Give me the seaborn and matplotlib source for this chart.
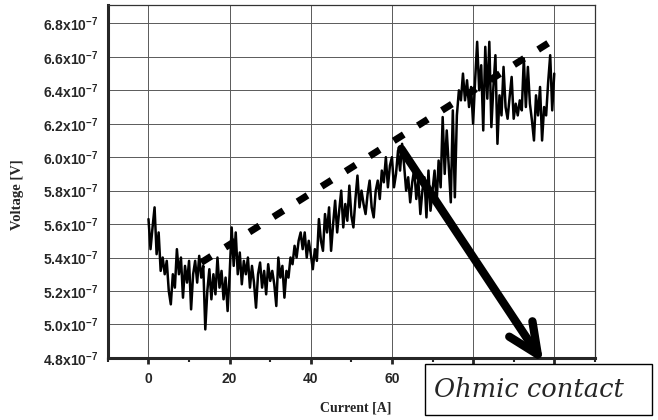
import numpy as np
import matplotlib
matplotlib.use("Agg")
import matplotlib.pyplot as plt
from matplotlib.ticker import FuncFormatter, MultipleLocator
from matplotlib.patches import Rectangle
import seaborn as sns

# ------------------------------
# Data (voltage in units of 1e-7 V, current sweep 0..100 A in 0.5 A steps)
# ------------------------------
current = np.arange(0, 100.5, 0.5)
voltage_e7 = [
    5.63, 5.45, 5.58, 5.70, 5.42, 5.55, 5.32, 5.40, 5.30, 5.38,
    5.20, 5.12, 5.30, 5.22, 5.45, 5.30, 5.40, 5.16, 5.35, 5.25,
    5.38, 5.09, 5.30, 5.38, 5.25, 5.41, 5.28, 5.35, 4.97, 5.20,
    5.33, 5.15, 5.30, 5.18, 5.40, 5.22, 5.32, 5.15, 5.28, 5.08,
    5.30, 5.58, 5.35, 5.55, 5.30, 5.43, 5.24, 5.38, 5.30, 5.40,
    5.22, 5.35, 5.25, 5.10, 5.30, 5.37, 5.22, 5.32, 5.18, 5.36,
    5.26, 5.32, 5.24, 5.11, 5.40, 5.28, 5.35, 5.16, 5.32, 5.28,
    5.40, 5.36, 5.47, 5.40, 5.50, 5.55, 5.45, 5.55, 5.40, 5.50,
    5.42, 5.33, 5.45, 5.38, 5.63, 5.50, 5.44, 5.66, 5.55, 5.70,
    5.44, 5.60, 5.74, 5.55, 5.68, 5.80, 5.58, 5.72, 5.62, 5.83,
    5.65, 5.58, 5.75, 5.89, 5.70, 5.80, 5.72, 5.66, 5.78, 5.86,
    5.70, 5.64, 5.80, 5.86, 5.75, 5.92, 5.85, 6.00, 5.82, 5.95,
    6.00, 5.82, 5.90, 6.04, 5.92, 6.08, 5.95, 5.80, 5.88, 5.73,
    5.85, 5.93, 5.75, 5.86, 5.66, 5.80, 5.88, 5.64, 5.92, 5.68,
    5.80, 5.92, 5.72, 5.98, 5.82, 6.24, 5.90, 6.16, 5.95, 5.73,
    6.28, 5.76, 6.25, 6.40, 6.34, 6.50, 6.34, 6.46, 6.30, 6.42,
    6.20, 6.46, 6.69, 6.40, 6.55, 6.16, 6.66, 6.35, 6.69, 6.18,
    6.42, 6.61, 6.08, 6.37, 6.25, 6.54, 6.30, 6.23, 6.36, 6.48,
    6.23, 6.32, 6.25, 6.34, 6.28, 6.59, 6.30, 6.54, 6.32, 6.22,
    6.10, 6.37, 6.25, 6.42, 6.10, 6.30, 6.25, 6.45, 6.61, 6.28,
    6.50,
]
voltage = np.array(voltage_e7) * 1e-7

# linear guide (dashed) end points
trend_x = [13, 101]
trend_y = [5.37e-7, 6.72e-7]

# arrow from the kink to the label
arrow_start = (62.3, 6.05e-7)
arrow_end = (97.3, 4.77e-7)

x_ticks = [0, 20, 40, 60, 80, 100]
y_ticks = [4.8e-7, 5.0e-7, 5.2e-7, 5.4e-7, 5.6e-7, 5.8e-7,
           6.0e-7, 6.2e-7, 6.4e-7, 6.6e-7, 6.8e-7]

# ------------------------------
# Style
# ------------------------------
sns.set_style("ticks")
plt.rcParams["font.family"] = ["Liberation Sans", "DejaVu Sans"]
plt.rcParams["mathtext.fontset"] = "custom"
plt.rcParams["mathtext.rm"] = "Liberation Sans:bold"
plt.rcParams["mathtext.it"] = "Liberation Sans:bold"
plt.rcParams["mathtext.bf"] = "Liberation Sans:bold"

fig = plt.figure(figsize=(6.58, 4.2), dpi=100)
ax = fig.add_axes([0.164, 0.148, 0.740, 0.840])

sns.lineplot(x=current, y=voltage, ax=ax, color="black", linewidth=1.8)
ax.plot(trend_x, trend_y, color="black", linewidth=5, dashes=(1.7, 2.4))

ax.annotate("", xy=arrow_end, xytext=arrow_start,
            arrowprops=dict(arrowstyle="->,head_length=1.1,head_width=0.5",
                            color="black", lw=6, shrinkA=0, shrinkB=0,
                            mutation_scale=20),
            annotation_clip=False)

ax.set_xlim(-10, 110)
ax.set_ylim(4.8e-7, 6.91e-7)
ax.set_xticks(x_ticks)
ax.set_yticks(y_ticks)
ax.xaxis.set_minor_locator(MultipleLocator(10))
ax.yaxis.set_major_formatter(FuncFormatter(lambda v, p: f"{v * 1e7:.1f}x10$^{{-7}}$"))

ax.grid(True, which="major", color="0.35", linewidth=0.7)
ax.tick_params(axis="x", which="major", direction="out", length=4, width=2, pad=6)
ax.tick_params(axis="x", which="minor", direction="out", length=3, width=1.5)
ax.tick_params(axis="y", length=0, pad=7)
for lab in ax.get_xticklabels() + ax.get_yticklabels():
    lab.set_fontweight("bold")
    lab.set_fontsize(10)

for side in ["left", "bottom"]:
    ax.spines[side].set_linewidth(2.2)
for side in ["top", "right"]:
    ax.spines[side].set_linewidth(0.9)
    ax.spines[side].set_color("0.2")
ax.set_xlabel("")
ax.set_ylabel("")

fig.text(0.541, 0.029, "Current [A]", ha="center", va="center",
         fontsize=10, fontweight="bold", family=["Liberation Serif"])
fig.text(0.027, 0.536, "Voltage [V]", ha="center", va="center", rotation=90,
         fontsize=10.5, fontweight="bold", family=["Liberation Serif"])

# label box (covers the 80 / 100 tick labels as in the original)
fig.patches.append(Rectangle((0.646, 0.012), 0.345, 0.121, transform=fig.transFigure,
                             facecolor="white", edgecolor="black", linewidth=1, zorder=5))
fig.text(0.659, 0.072, "Ohmic contact", ha="left", va="center", fontsize=18.5,
         style="italic", family=["DejaVu Serif"], zorder=6)

plt.savefig("out.png", dpi=100)
